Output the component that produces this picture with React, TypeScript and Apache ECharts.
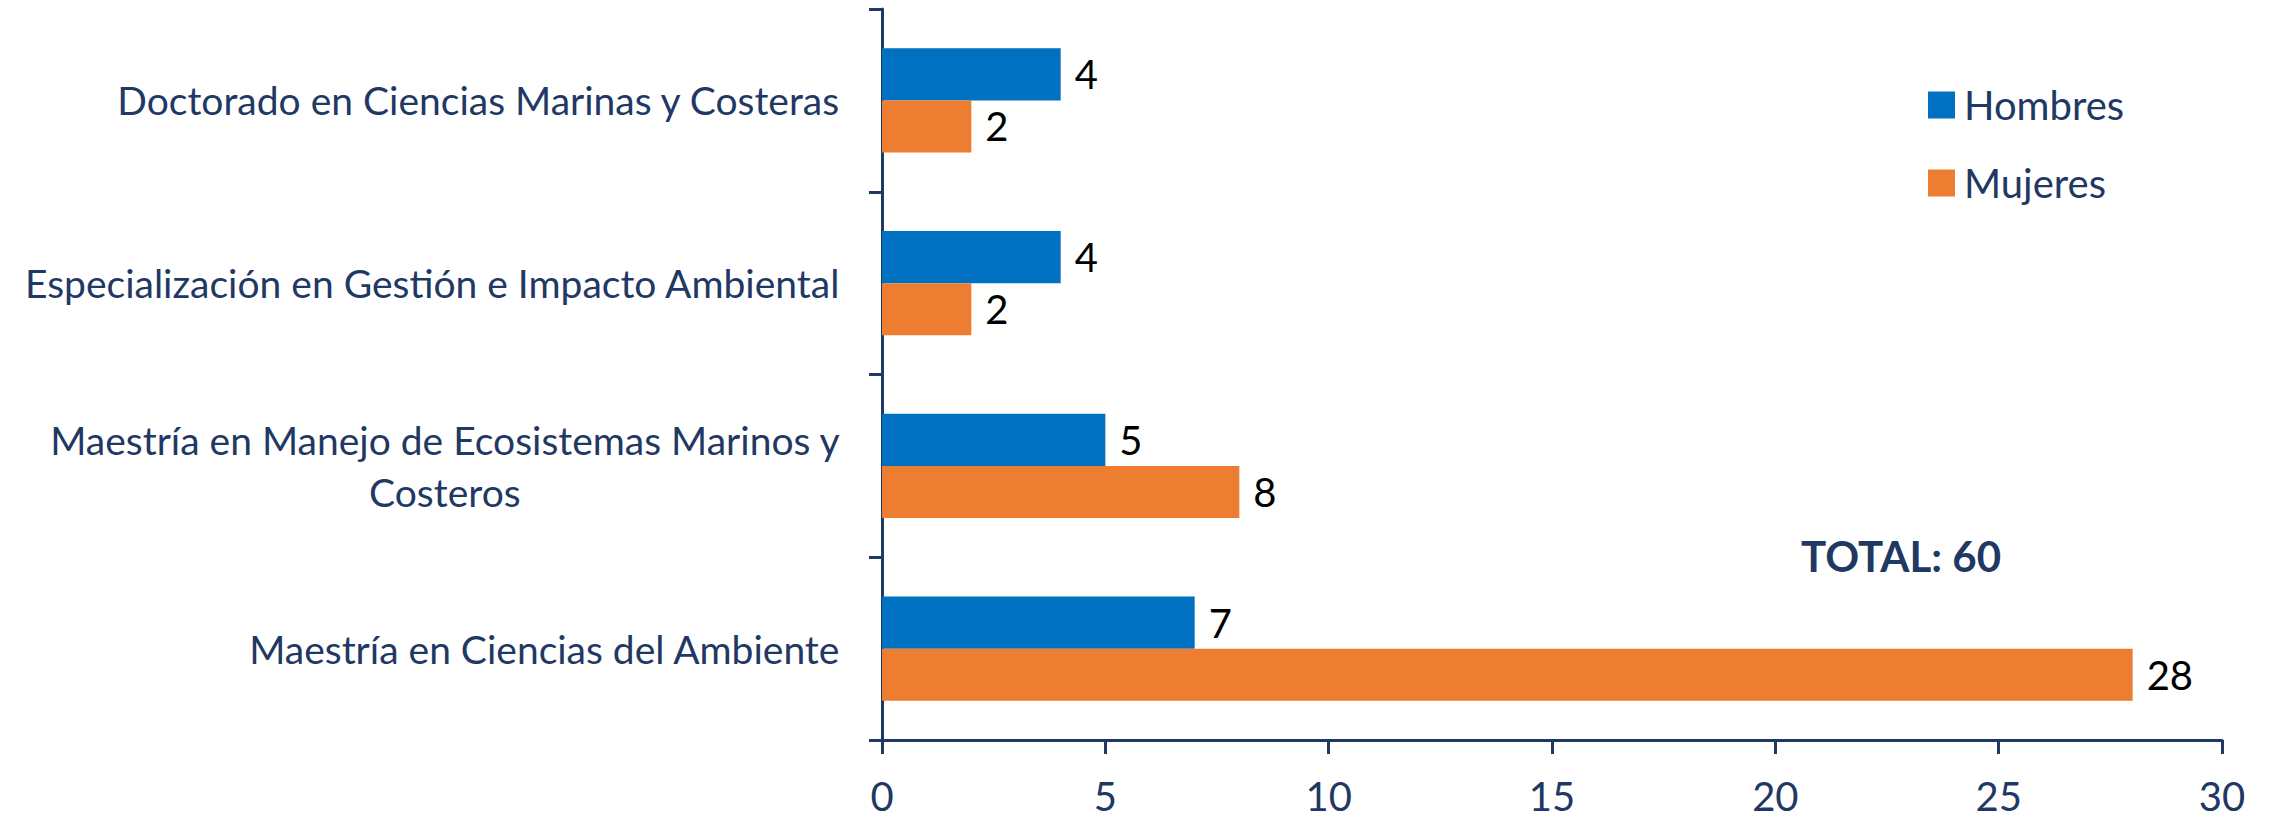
import React, { useEffect, useRef } from "react";
import * as echarts from "echarts";

const categories = [
  "Doctorado en Ciencias Marinas y Costeras",
  "Especialización en Gestión e Impacto Ambiental",
  "Maestría en Manejo de Ecosistemas Marinos y\nCosteros",
  "Maestría en Ciencias del Ambiente",
];
const hombres = [4, 4, 5, 7];
const mujeres = [2, 2, 8, 28];
const seriesNames = ["Hombres", "Mujeres"];
const xTicks = { min: 0, max: 30, interval: 5 };
const totalLabel = "TOTAL: 60";

const NAVY = "#1F3864";
const FONT = "Lato";

export default function App() {
  const ref = useRef<HTMLDivElement>(null);
  useEffect(() => {
    if (!ref.current) return;
    const chart = echarts.init(ref.current, undefined, { renderer: "svg" });
    const labelStyle = {
      show: true,
      position: "right" as const,
      distance: 14,
      color: "#000",
      fontFamily: FONT,
      fontSize: 40,
    };
    chart.setOption({
      animation: false,
      backgroundColor: "#fff",
      textStyle: { fontFamily: FONT },
      grid: { left: 882, right: 53, top: 9, bottom: 80, containLabel: false },
      legend: {
        orient: "vertical",
        left: 1923,
        top: 80,
        itemWidth: 27,
        itemHeight: 27,
        itemGap: 38,
        icon: "rect",
        data: seriesNames,
        textStyle: { color: NAVY, fontSize: 40, fontFamily: FONT, padding: [0, 0, 0, 4] },
      },
      xAxis: {
        type: "value",
        min: xTicks.min,
        max: xTicks.max,
        interval: xTicks.interval,
        splitLine: { show: false },
        axisLine: { show: true, lineStyle: { color: NAVY, width: 3 } },
        axisTick: { show: true, inside: false, length: 14, lineStyle: { color: NAVY, width: 3 } },
        axisLabel: { color: NAVY, fontSize: 40, fontFamily: FONT, margin: 36 },
      },
      yAxis: {
        type: "category",
        inverse: true,
        data: categories,
        axisLine: { show: true, lineStyle: { color: NAVY, width: 3 } },
        axisTick: { show: true, length: 13, lineStyle: { color: NAVY, width: 3 } },
        axisLabel: {
          margin: 42,
          color: NAVY,
          fontSize: 39,
          fontFamily: FONT,
          lineHeight: 52,
          formatter: (v: string) =>
            v
              .split("\n")
              .map((s) => `{c|${s}}`)
              .join("\n"),
          rich: {
            c: { align: "center", color: NAVY, fontSize: 39, fontFamily: FONT, lineHeight: 52 },
          },
        },
      },
      series: [
        {
          name: seriesNames[0],
          type: "bar",
          data: hombres,
          barGap: "0%",
          barCategoryGap: "43%",
          itemStyle: { color: "#0070C0" },
          label: labelStyle,
        },
        {
          name: seriesNames[1],
          type: "bar",
          data: mujeres,
          barGap: "0%",
          barCategoryGap: "43%",
          itemStyle: { color: "#ED7D31" },
          label: labelStyle,
        },
      ],
      graphic: [
        {
          type: "text",
          left: 1801,
          top: 535,
          style: {
            text: totalLabel,
            fill: NAVY,
            font: `bold 42px ${FONT}`,
          },
        },
      ],
    });
    return () => chart.dispose();
  }, []);
  return (
    <div
      ref={ref}
      style={{ position: "fixed", left: 0, top: 0, width: 2275, height: 820 }}
    />
  );
}
